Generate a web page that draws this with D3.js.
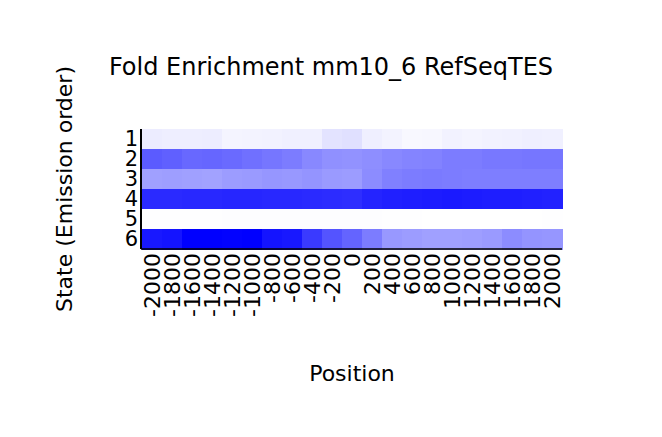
<!DOCTYPE html>
<html><head><meta charset="utf-8">
<script src="https://cdn.jsdelivr.net/npm/d3@7"></script>
<style>body{margin:0;background:#fff}text{font-family:"DejaVu Sans",sans-serif;fill:#000}</style>
</head><body><svg id="c" width="662" height="437"></svg>
<script>
const positions = ["-2000","-1800","-1600","-1400","-1200","-1000","-800","-600","-400","-200","0","200","400","600","800","1000","1200","1400","1600","1800","2000"];
const states = ["1","2","3","4","5","6"];
// relative enrichment (0 = white, 1 = full blue)
const state1 = [0.075,0.067,0.067,0.071,0.043,0.047,0.051,0.059,0.059,0.110,0.122,0.063,0.047,0.027,0.031,0.051,0.043,0.051,0.055,0.063,0.059];
const state2 = [0.643,0.624,0.592,0.600,0.584,0.561,0.537,0.514,0.467,0.435,0.427,0.443,0.467,0.482,0.490,0.514,0.514,0.529,0.529,0.537,0.537];
const state3 = [0.373,0.380,0.373,0.365,0.388,0.396,0.412,0.404,0.420,0.396,0.388,0.451,0.498,0.514,0.522,0.514,0.506,0.506,0.506,0.506,0.506];
const state4 = [0.835,0.835,0.843,0.843,0.851,0.851,0.843,0.843,0.835,0.827,0.820,0.859,0.875,0.882,0.890,0.898,0.890,0.882,0.882,0.875,0.867];
const state5 = [0.002,0.004,0.004,0.004,0.006,0.008,0.008,0.008,0.008,0.008,0.008,0.006,0.004,0.002,0.000,0.000,0.000,0.000,0.000,0.000,0.002];
const state6 = [0.906,0.922,1.000,1.000,0.992,1.000,0.922,0.906,0.773,0.671,0.608,0.514,0.404,0.388,0.373,0.373,0.380,0.396,0.451,0.420,0.412];
const rows = [state1,state2,state3,state4,state5,state6];

const svg = d3.select("#c");
const x = d3.scaleBand().domain(positions).range([142,562]);
const y = d3.scaleBand().domain(states).range([129,249]);
const col = d3.scaleLinear().domain([0,1]).range(["#ffffff","#0000ff"]);

const cells = [];
rows.forEach((r,i)=>r.forEach((v,j)=>cells.push({s:states[i],p:positions[j],v})));
svg.append("g").selectAll("rect").data(cells).join("rect")
  .attr("x",d=>x(d.p)).attr("y",d=>y(d.s))
  .attr("width",x.bandwidth()+0.5).attr("height",y.bandwidth()+0.5)
  .attr("fill",d=>col(d.v)).attr("shape-rendering","crispEdges");

// axes
const yAxis = svg.append("g").attr("transform","translate(141,0)")
  .call(d3.axisLeft(y).tickSize(0).tickPadding(3));
yAxis.select(".domain").attr("stroke","#000").attr("stroke-width",2).attr("d","M0,129V249");
yAxis.selectAll("text").attr("font-size",21).attr("font-family","DejaVu Sans").attr("fill","#000");

const xAxis = svg.append("g").attr("transform","translate(0,249)")
  .call(d3.axisBottom(x).tickSize(0));
xAxis.select(".domain").attr("stroke","#000").attr("stroke-width",1.5).attr("d","M141,0H562");
xAxis.selectAll("text").attr("font-size",22).attr("font-family","DejaVu Sans").attr("fill","#000")
  .attr("transform","rotate(-90)").attr("text-anchor","end").attr("x",-4).attr("y",0).attr("dy","0.35em");

svg.append("text").attr("x",331).attr("y",75).attr("text-anchor","middle").attr("font-size",24)
  .text("Fold Enrichment mm10_6 RefSeqTES");
svg.append("text").attr("transform","translate(72,189) rotate(-90)").attr("text-anchor","middle").attr("font-size",22)
  .text("State (Emission order)");
svg.append("text").attr("x",352).attr("y",381).attr("text-anchor","middle").attr("font-size",22)
  .text("Position");
</script></body></html>
